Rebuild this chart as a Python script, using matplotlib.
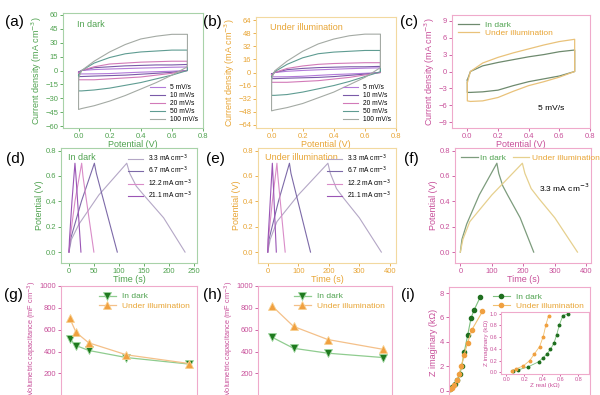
import matplotlib
matplotlib.use("Agg")
import matplotlib.pyplot as plt

plt.rcParams["font.family"] = ["Liberation Sans", "DejaVu Sans"]

# ---- colours
GREEN = "#4fa24f"
ORANGE = "#e8a535"
PINK = "#c8509a"
SP_GREEN = "#a8d2a8"
SP_ORANGE = "#f2d9a0"
SP_PINK = "#efaacb"

# ---- CV data (potential grid, upper / lower branch currents)
cv_grid = [0.0, 0.02, 0.1, 0.2, 0.3, 0.4, 0.5, 0.6, 0.7]
scan_rates = ["5 mV/s", "10 mV/s", "20 mV/s", "50 mV/s", "100 mV/s"]
cv_colors = ["#b27ad9", "#7a5aa8", "#d27ab8", "#5f9c92", "#a4aaa4"]

dark_up = [
    [-1.5, 0, 1.0, 1.6, 2.1, 2.6, 3.0, 3.5, 3.8],
    [-2, 0, 3, 4, 5, 5.5, 6, 6, 6.5],
    [-3, 0, 4, 7, 8, 9, 9.5, 10, 10],
    [-5, 0, 8, 14, 18, 20, 21, 22, 22],
    [-8, 0, 10, 20, 28, 34, 37, 39, 39],
]
dark_low = [
    [-3.7, -3.7, -3.6, -3.3, -2.5, -1.8, -1.3, -0.8, 0.0],
    [-6.5, -6.5, -6, -5.5, -5, -4, -3, -2, 0],
    [-10, -10, -10, -9, -8, -7, -5, -3, 0],
    [-22, -22, -21, -19, -16, -13, -9, -5, 0],
    [-42, -41, -38, -33, -27, -20, -13, -5, 4],
]
illum_up = [
    [-2, 0, 1.5, 2.5, 3.3, 4.0, 4.7, 5.3, 5.7],
    [-2, 0, 3.5, 5, 6, 6.5, 7, 7, 7.5],
    [-3, 0, 5, 8, 10, 11, 11.5, 12, 12],
    [-5, 1, 10, 18, 23, 25, 26, 27, 27],
    [-8, 2, 14, 26, 35, 41, 45, 47, 47],
]
illum_low = [
    [-5.2, -5.3, -5.2, -4.6, -3.5, -2.5, -1.8, -1.0, 0.0],
    [-7.5, -7.5, -7, -6.5, -6, -5, -3.5, -2, 0],
    [-12, -12, -12, -11, -10, -8, -6, -3, 0],
    [-28, -28, -27, -24, -20, -16, -11, -5, 1],
    [-47, -46, -43, -38, -31, -24, -15, -6, 6],
]

# ---- GCD data (time s, potential V)
currents = ["3.3 mA cm$^{-3}$", "6.7 mA cm$^{-3}$", "12.2 mA cm$^{-3}$", "21.1 mA cm$^{-3}$"]
gcd_colors = ["#b4a7c6", "#7d6aa8", "#d98cc8", "#9a55b5"]
dark_t = [
    [0, 5, 20, 60, 116, 122, 135, 150, 190, 233],
    [0, 3, 25, 51, 55, 97],
    [0, 2, 12, 25.5, 28, 50],
    [0, 1, 6, 12, 14, 24],
]
dark_v = [
    [0, 0.1, 0.22, 0.45, 0.7, 0.62, 0.52, 0.45, 0.27, 0],
    [0, 0.1, 0.4, 0.7, 0.62, 0],
    [0, 0.1, 0.4, 0.7, 0.6, 0],
    [0, 0.1, 0.4, 0.7, 0.6, 0],
]
illum_t = [
    [0, 8, 30, 100, 197, 205, 225, 250, 300, 372],
    [0, 4, 35, 71, 76, 140],
    [0, 2, 15, 30, 33, 57],
    [0, 1, 8, 15, 17, 28],
]
illum_v = [
    [0, 0.1, 0.24, 0.45, 0.7, 0.62, 0.5, 0.42, 0.27, 0],
    [0, 0.1, 0.4, 0.7, 0.62, 0],
    [0, 0.1, 0.4, 0.7, 0.6, 0],
    [0, 0.1, 0.4, 0.7, 0.6, 0],
]

# ---- capacitance data
rate_vals = [5, 10, 20, 50, 100]
cap_rate_dark = [515, 455, 410, 345, 285]
cap_rate_illum = [703, 575, 480, 370, 290]
cur_vals = [3.3, 6.7, 12.2, 21.1]
cap_cur_dark = [530, 430, 385, 345]
cap_cur_illum = [815, 630, 510, 420]

# ---- impedance data (kOhm)
eis_dark_x = [0.07, 0.18, 0.33, 0.48, 0.62, 0.72, 0.87, 1.06, 1.25, 1.42, 1.76]
eis_dark_y = [0.14, 0.27, 0.54, 0.87, 1.35, 2.0, 3.2, 4.55, 5.96, 6.6, 7.64]
eis_illum_x = [0.05, 0.15, 0.3, 0.45, 0.58, 0.7, 0.85, 1.05, 1.3, 1.9]
eis_illum_y = [0.1, 0.25, 0.5, 0.9, 1.4, 2.0, 2.9, 3.9, 5.0, 6.5]
ins_dark_x = [0.07, 0.13, 0.24, 0.36, 0.41, 0.45, 0.49, 0.53, 0.56, 0.59, 0.63, 0.69]
ins_dark_y = [0.02, 0.04, 0.09, 0.18, 0.25, 0.31, 0.39, 0.5, 0.64, 0.81, 0.97, 1.0]
ins_illum_x = [0.06, 0.11, 0.19, 0.26, 0.31, 0.37, 0.41, 0.44, 0.47]
ins_illum_y = [0.02, 0.06, 0.11, 0.2, 0.31, 0.44, 0.61, 0.81, 0.97]

fig = plt.figure(figsize=(6, 3.95), dpi=100)


def box(l, t, r, b):
    return fig.add_axes([l / 600, 1 - b / 395, (r - l) / 600, (b - t) / 395])


def style(ax, color, spine):
    for s in ax.spines.values():
        s.set_color(spine)
        s.set_linewidth(0.8)
    ax.tick_params(labelsize=5.5, colors=color, length=2, width=0.6, pad=1.5)


def loop(grid, up, low):
    xs = list(grid) + list(grid[::-1]) + [grid[0]]
    ys = list(up) + list(low[::-1]) + [up[0]]
    return xs, ys


def colour_legend(leg):
    for txt, c in zip(leg.get_texts(), [GREEN, ORANGE]):
        txt.set_color(c)


# (a) / (b) CV curves
for (l, t, r, b), ups, lows, col, sp, lim, step, note in [
    ((63, 13, 203, 128), dark_up, dark_low, GREEN, SP_GREEN, 62, 15, "In dark"),
    ((256, 17, 396, 128), illum_up, illum_low, ORANGE, SP_ORANGE, 68, 16, "Under illumination"),
]:
    ax = box(l, t, r, b)
    for i in range(5):
        xs, ys = loop(cv_grid, ups[i], lows[i])
        ax.plot(xs, ys, color=cv_colors[i], lw=0.8, label=scan_rates[i])
    ax.set_xlim(-0.1, 0.8)
    ax.set_ylim(-lim, lim)
    ax.set_xticks([0.0, 0.2, 0.4, 0.6, 0.8])
    top = step * 4
    ax.set_yticks(range(-top, top + 1, step))
    ax.set_xlabel("Potential (V)", color=col, fontsize=6.5, labelpad=0)
    ax.set_ylabel("Current density (mA cm$^{-3}$)", color=col, fontsize=6.5, labelpad=1)
    ax.text(0.1, 0.88, note, transform=ax.transAxes, color=col, fontsize=6.5)
    ax.legend(loc="lower right", frameon=False, fontsize=4.8, handlelength=2.2,
              labelspacing=0.15, borderpad=0.2)
    style(ax, col, sp)

# (c) CV at 5 mV/s
ax = box(452, 15, 590, 128)
xs, ys = loop(cv_grid, dark_up[0], dark_low[0])
ax.plot(xs, ys, color="#6e8a6e", lw=0.9, label="In dark")
xs, ys = loop(cv_grid, illum_up[0], illum_low[0])
ax.plot(xs, ys, color="#e9c27a", lw=0.9, label="Under illumination")
ax.set_xlim(-0.1, 0.8)
ax.set_ylim(-10, 10)
ax.set_xticks([0.0, 0.2, 0.4, 0.6, 0.8])
ax.set_yticks([-9, -6, -3, 0, 3, 6, 9])
ax.set_xlabel("Potential (V)", color=PINK, fontsize=6.5, labelpad=0)
ax.set_ylabel("Current density (mA cm$^{-3}$)", color=PINK, fontsize=6.5, labelpad=1)
ax.text(0.62, 0.16, "5 mV/s", transform=ax.transAxes, fontsize=6)
leg = ax.legend(loc="upper left", frameon=False, fontsize=6, handlelength=2.5,
                labelspacing=0.1, borderpad=0.2)
colour_legend(leg)
style(ax, PINK, SP_PINK)

# (d) / (e) GCD curves
for (l, t, r, b), ts, vs, col, sp, xl, xt, note in [
    ((61, 148, 197, 263), dark_t, dark_v, GREEN, SP_GREEN, (-16, 257), [0, 50, 100, 150, 200, 250], "In dark"),
    ((258, 148, 396, 263), illum_t, illum_v, ORANGE, SP_ORANGE, (-32, 420), [0, 100, 200, 300, 400], "Under illumination"),
]:
    ax = box(l, t, r, b)
    for i in range(4):
        ax.plot(ts[i], vs[i], color=gcd_colors[i], lw=0.8, label=currents[i])
    ax.set_xlim(*xl)
    ax.set_ylim(-0.086, 0.82)
    ax.set_xticks(xt)
    ax.set_yticks([0.0, 0.2, 0.4, 0.6, 0.8])
    ax.set_xlabel("Time (s)", color=col, fontsize=6.5, labelpad=0)
    ax.set_ylabel("Potential (V)", color=col, fontsize=6.5, labelpad=1)
    ax.text(0.05, 0.9, note, transform=ax.transAxes, color=col, fontsize=6.5)
    ax.legend(loc="upper right", frameon=False, fontsize=4.8, handlelength=2.2,
              labelspacing=0.15, borderpad=0.2)
    style(ax, col, sp)

# (f) GCD at 3.3 mA cm-3
ax = box(455, 148, 591, 263)
ax.plot(dark_t[0], dark_v[0], color="#7d9c7d", lw=0.9, label="In dark")
ax.plot(illum_t[0], illum_v[0], color="#e6d08e", lw=0.9, label="Under illumination")
ax.set_xlim(-17, 415)
ax.set_ylim(-0.086, 0.82)
ax.set_xticks([0, 100, 200, 300, 400])
ax.set_yticks([0.0, 0.2, 0.4, 0.6, 0.8])
ax.set_xlabel("Time (s)", color=PINK, fontsize=6.5, labelpad=0)
ax.set_ylabel("Potential (V)", color=PINK, fontsize=6.5, labelpad=1)
ax.text(0.62, 0.62, "3.3 mA cm$^{-3}$", transform=ax.transAxes, fontsize=6)
leg = ax.legend(loc="upper left", ncol=2, frameon=False, fontsize=6, handlelength=2.0,
                columnspacing=0.8, borderpad=0.2, handletextpad=0.3)
colour_legend(leg)
style(ax, PINK, SP_PINK)

# (g) / (h) capacitance (bottom of these panels lies below the picture edge)
for (l, t, r, b), xv, yd, yi, xl in [
    ((61, 286, 197, 404), rate_vals, cap_rate_dark, cap_rate_illum, (-2, 106)),
    ((258, 286, 392, 404), cur_vals, cap_cur_dark, cap_cur_illum, (1, 22.5)),
]:
    ax = box(l, t, r, b)
    ax.plot(xv, yd, color="#8fcc8f", lw=0.9, marker="v", ms=6, mfc="#1f7a1f",
            mec="#9fd69f", mew=0.6, label="In dark")
    ax.plot(xv, yi, color="#f4c089", lw=0.9, marker="^", ms=6, mfc="#f0a040",
            mec="#f8d090", mew=0.6, label="Under illumination")
    ax.set_xlim(*xl)
    ax.set_ylim(-80, 1000)
    ax.set_yticks([200, 400, 600, 800, 1000])
    ax.set_ylabel("Volumetric capacitance (mF cm$^{-3}$)", color=PINK, fontsize=5.3, labelpad=1)
    ax.yaxis.set_label_coords(-0.165, 0.56)
    leg = ax.legend(loc="upper right", frameon=False, fontsize=6, handlelength=2.0,
                    labelspacing=0.2, borderpad=0.3)
    colour_legend(leg)
    style(ax, PINK, SP_PINK)
    ax.tick_params(axis="x", labelbottom=False)

# (i) impedance
ax = box(449, 287, 590, 398)
ax.plot(eis_dark_x, eis_dark_y, color="#7fc07f", lw=0.8, marker="o", ms=3,
        mfc="#1f6f1f", mec="#1f6f1f", label="In dark")
ax.plot(eis_illum_x, eis_illum_y, color="#f0c070", lw=0.8, marker="o", ms=3,
        mfc="#f0a040", mec="#f0a040", label="Under illumination")
ax.set_xlim(0, 8)
ax.set_ylim(-0.6, 8.5)
ax.set_yticks([0, 2, 4, 6, 8])
ax.set_ylabel("Z imaginary (k\u03a9)", color=PINK, fontsize=6.5, labelpad=1)
leg = ax.legend(loc="upper right", frameon=False, fontsize=6, handlelength=2.0,
                labelspacing=0.2, borderpad=0.2)
colour_legend(leg)
style(ax, PINK, SP_PINK)
ax.tick_params(axis="x", labelbottom=False)

axin = box(501, 312, 589, 374)
axin.plot(ins_dark_x, ins_dark_y, color="#7fc07f", lw=0.6, marker="o", ms=1.8,
          mfc="#1f6f1f", mec="#1f6f1f")
axin.plot(ins_illum_x, ins_illum_y, color="#f0c070", lw=0.6, marker="o", ms=1.8,
          mfc="#f0a040", mec="#f0a040")
axin.set_xlim(-0.06, 0.92)
axin.set_ylim(-0.03, 1.03)
axin.set_xticks([0.0, 0.2, 0.4, 0.6, 0.8])
axin.set_yticks([0.0, 0.2, 0.4, 0.6, 0.8, 1.0])
axin.set_xlabel("Z real (k\u03a9)", color=PINK, fontsize=4.5, labelpad=0.5)
axin.set_ylabel("Z imaginary (k\u03a9)", color=PINK, fontsize=4.5, labelpad=0.5)
style(axin, PINK, SP_PINK)
axin.tick_params(labelsize=4, pad=1, length=1.5)

# panel letters
for lab, x, y in [("(a)", 5, 22), ("(b)", 203, 22), ("(c)", 400, 22),
                  ("(d)", 6, 159), ("(e)", 206, 159), ("(f)", 404, 159),
                  ("(g)", 4, 295), ("(h)", 203, 295), ("(i)", 401, 295)]:
    fig.text(x / 600, 1 - y / 395, lab, fontsize=11, va="center")

fig.savefig("out.png", dpi=100)
